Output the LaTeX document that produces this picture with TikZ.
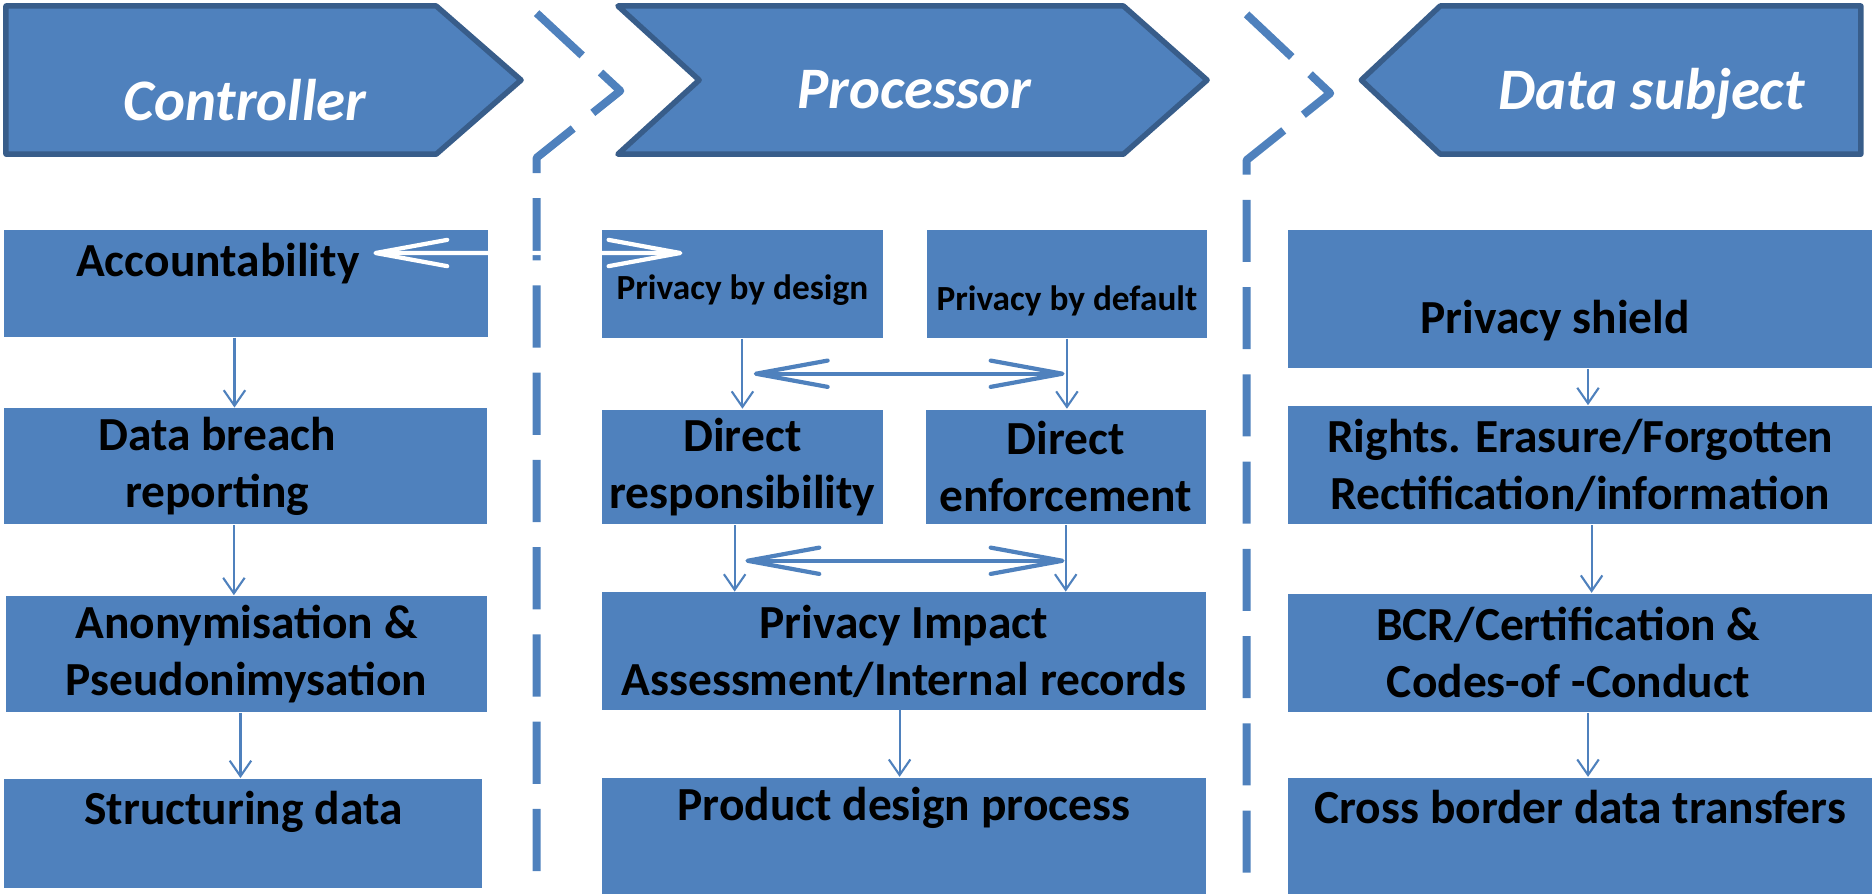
\documentclass[tikz,border=0pt]{standalone}
\usepackage{fontspec}
\setmainfont{Carlito}
\usepackage{tikz}
\usetikzlibrary{arrows.meta}
\usetikzlibrary{calc}
\usetikzlibrary{scopes}

\definecolor{boxblue}{HTML}{4F81BD}
\definecolor{edgeblue}{HTML}{385D8A}
% pulls a centred line to the left
\newcommand{\nudge}[1]{\hspace*{-#1}}

\begin{document}
\begin{tikzpicture}[
    head/.style={fill=boxblue,draw=edgeblue,line width=1.3pt,line join=round},
    headtext/.style={text=white,anchor=base,font=\fontsize{14}{17}\selectfont\bfseries\itshape},
    lane/.style={draw=boxblue,line width=1.9pt,line join=round,dash pattern=on 0.52cm off 0.21cm}]
\useasboundingbox (0,0) rectangle (15.68,-7.48);

% header arrows
\draw[head] (0.05,-0.05) -- (3.65,-0.05) -- (4.36,-0.67) -- (3.65,-1.29) -- (0.05,-1.29) -- cycle;
\draw[head] (5.17,-0.05) -- (9.40,-0.05) -- (10.10,-0.67) -- (9.40,-1.29) -- (5.17,-1.29) -- (5.85,-0.67) -- cycle;
\draw[head] (12.05,-0.05) -- (15.57,-0.05) -- (15.57,-1.29) -- (12.05,-1.29) -- (11.39,-0.67) -- cycle;
\node[headtext] (ctrl) at (2.05,-1.01) {Controller};
\node[headtext] (proc) at (7.65,-0.91) {Processor};
\node[headtext] (subj) at (13.82,-0.92) {Data subject};

% lane borders
\draw[lane] (4.49,-0.11) -- (5.19,-0.76) -- (4.49,-1.32) -- (4.49,-7.48);
\draw[lane] (10.43,-0.12) -- (11.13,-0.78) -- (10.43,-1.34) -- (10.43,-7.48);

\begin{scope}[every node/.style={fill=boxblue,anchor=north west,inner sep=0pt,align=center,
              font=\fontsize{11.3}{13.6}\selectfont\bfseries}]
    % Controller
    \node[minimum width=4.05cm,minimum height=0.89cm,text height=0.30cm,text depth=0.42cm]
        (acc) at (0.03,-1.92) {\nudge{0.48cm}Accountability};
    \node[minimum width=4.04cm,minimum height=0.97cm]
        (breach) at (0.03,-3.41) {\nudge{0.48cm}Data breach\\\nudge{0.48cm}reporting};
    \node[minimum width=4.03cm,minimum height=0.97cm]
        (anon) at (0.04,-4.98) {Anonymisation \&\\Pseudonimysation};
    \node[minimum width=4.00cm,minimum height=0.91cm,text height=0.30cm,text depth=0.45cm]
        (struct) at (0.03,-6.51) {Structuring data};
    % Processor
    \node[minimum width=2.35cm,minimum height=0.90cm,text height=0.34cm,text depth=0.08cm,
          font=\fontsize{8.4}{10}\selectfont\bfseries]
        (design) at (5.03,-1.92) {Privacy by design};
    \node[minimum width=2.34cm,minimum height=0.90cm,text height=0.52cm,text depth=0.08cm,
          font=\fontsize{8.4}{10}\selectfont\bfseries]
        (default) at (7.75,-1.92) {Privacy by default};
    \node[minimum width=2.35cm,minimum height=0.96cm]
        (resp) at (5.03,-3.42) {Direct\\responsibility};
    \node[minimum width=2.34cm,minimum height=0.96cm]
        (enf) at (7.74,-3.42) {Direct\\enforcement};
    \node[minimum width=5.05cm,minimum height=0.98cm]
        (pia) at (5.03,-4.95) {Privacy Impact\\Assessment/Internal records};
    \node[minimum width=5.05cm,minimum height=0.98cm,text height=0.30cm,text depth=0.56cm]
        (prod) at (5.03,-6.50) {Product design process};
    % Data subject
    \node[minimum width=4.89cm,minimum height=1.15cm,text height=0.65cm,text depth=0.08cm]
        (shield) at (10.77,-1.92) {\nudge{0.42cm}Privacy shield};
    \node[minimum width=4.89cm,minimum height=0.99cm]
        (rights) at (10.77,-3.39) {Rights. Erasure/Forgotten\\Rectification/information};
    \node[minimum width=4.89cm,minimum height=0.99cm]
        (bcr) at (10.77,-4.96) {\nudge{0.2cm}BCR/Certification \&\\\nudge{0.2cm}Codes-of -Conduct};
    \node[minimum width=4.89cm,minimum height=0.98cm,text height=0.30cm,text depth=0.52cm]
        (cross) at (10.77,-6.50) {Cross border data transfers};
\end{scope}

\coordinate (m1) at ($(design.south)!.5!(design.south |- resp.north)$);
\coordinate (m2) at ($(default.south)!.5!(default.south |- enf.north)$);
\coordinate (m3) at ($(resp.south)!.5!(resp.south |- pia.north)$);
\coordinate (m4) at ($(enf.south)!.5!(enf.south |- pia.north)$);

\begin{scope}[>={Straight Barb[length=1.3mm,width=1.8mm]},
              every path/.style={draw=boxblue,line width=0.5pt}]
    \draw[->] ([xshift=-0.1cm]acc.south) -- ([xshift=-0.1cm]acc.south |- breach.north);
    \draw[->] ([xshift=-0.1cm]breach.south) -- ([xshift=-0.1cm]breach.south |- anon.north);
    \draw[->] ([xshift=-0.05cm]anon.south) -- ([xshift=-0.05cm]anon.south |- struct.north);
    \draw[->] (design.south) -- (design.south |- resp.north);
    \draw[->] (default.south) -- (default.south |- enf.north);
    \draw[->] ([xshift=-0.065cm]resp.south) -- ([xshift=-0.065cm]resp.south |- pia.north);
    \draw[->] (enf.south) -- (enf.south |- pia.north);
    \draw[->] ([xshift=-0.035cm]pia.south) -- ([xshift=-0.035cm]pia.south |- prod.north);
    \draw[->] ([xshift=0.065cm]shield.south) -- ([xshift=0.065cm]shield.south |- rights.north);
    \draw[->] ([xshift=0.095cm]rights.south) -- ([xshift=0.095cm]rights.south |- bcr.north);
    \draw[->] ([xshift=0.065cm]bcr.south) -- ([xshift=0.065cm]bcr.south |- cross.north);
\end{scope}

\begin{scope}[>={Straight Barb[length=6mm,width=2.2mm,round]},line width=1pt]
    \draw[<->,draw=boxblue] ([xshift=0.095cm]m1) -- ([xshift=-0.02cm]m2);
    \draw[<->,draw=boxblue] ([xshift=0.025cm,yshift=-0.02cm]m3) -- ([xshift=-0.01cm,yshift=-0.02cm]m4);
    \draw[<->,draw=white] ([xshift=-0.97cm,yshift=0.255cm]acc.east) -- ([xshift=0.68cm,yshift=0.26cm]design.west);
\end{scope}
\end{tikzpicture}
\end{document}
